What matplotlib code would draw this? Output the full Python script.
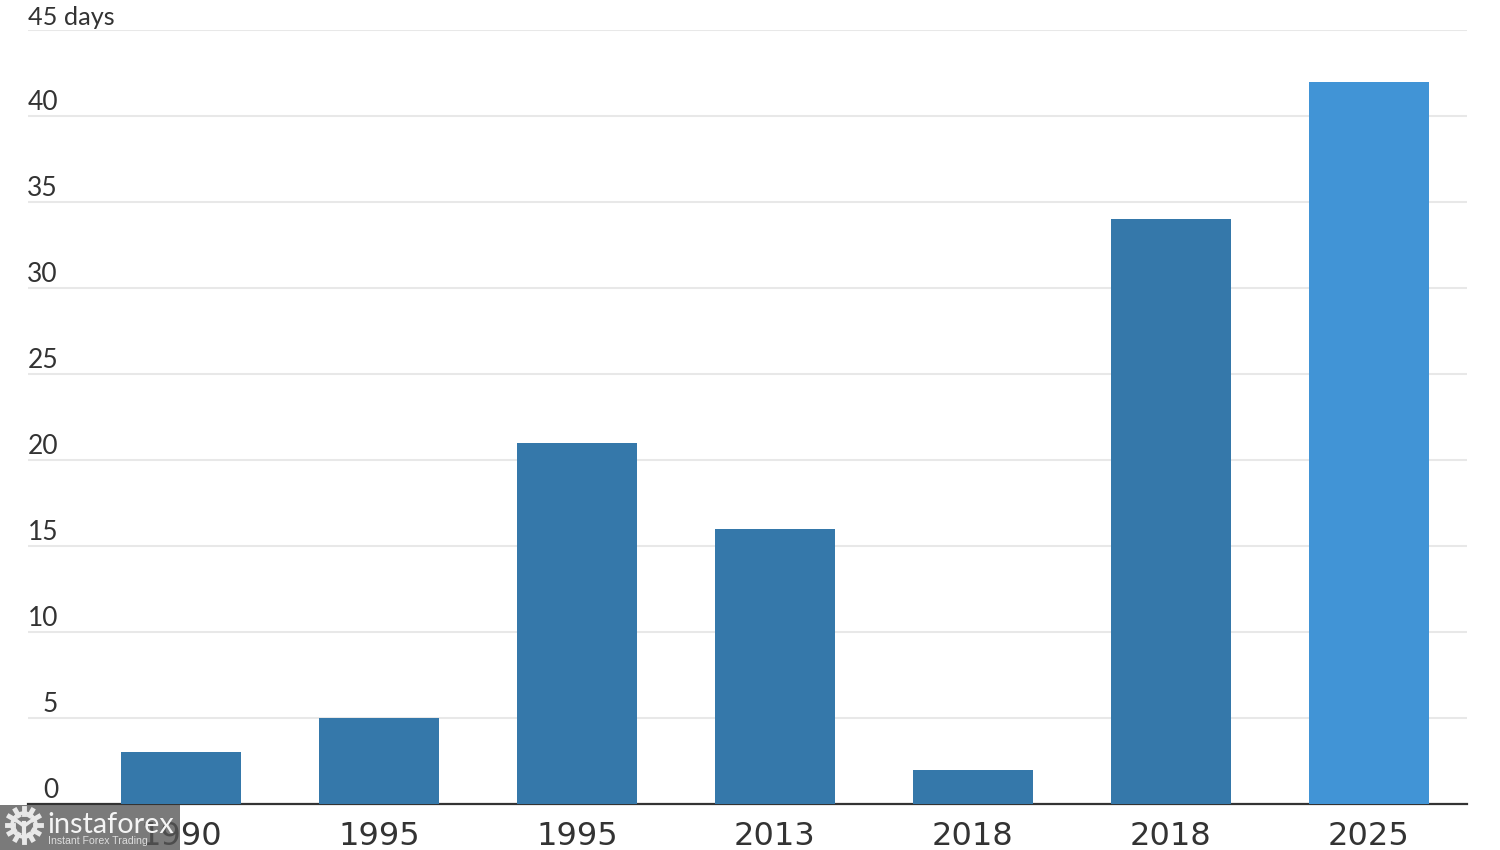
import numpy as np
import matplotlib
matplotlib.use("Agg")
import matplotlib.pyplot as plt
from matplotlib.patches import Rectangle
from matplotlib.lines import Line2D

years = ["1990", "1995", "1995", "2013", "2018", "2018", "2025"]
days = [3, 5, 21, 16, 2, 34, 42]
colors = ["#3578aa"] * 6 + ["#4194d6"]
yticks = [0, 5, 10, 15, 20, 25, 30, 35, 40, 45]
ylabels = ["0", "5", "10", "15", "20", "25", "30", "35", "40", "45 days"]

W, H = 1500, 850

fig = plt.figure(figsize=(15, 8.5), dpi=100)
# axes run from the left end of the gridlines to the right end, baseline to top line
ax = fig.add_axes([28 / W, 1 - 804 / H, (1467 - 28) / W, (804 - 30) / H])

x = list(range(len(years)))
ax.bar(x, days, width=0.606, color=colors, zorder=3)

ax.set_xlim(-0.7727, 6.495)
ax.set_ylim(0, 45)
ax.set_yticks(yticks)
ax.set_yticklabels([])
ax.set_xticks(x)
ax.set_xticklabels(years, fontsize=23, color="#333333", family="DejaVu Sans")
ax.tick_params(axis="x", length=0, pad=12)
ax.tick_params(axis="y", length=0)
ax.grid(axis="y", color="#e8e8e8", lw=1.5, zorder=0)
ax.set_axisbelow(True)

for s in ["top", "right", "left"]:
    ax.spines[s].set_visible(False)
ax.spines["bottom"].set_color("#333333")
ax.spines["bottom"].set_linewidth(1.6)

# y labels sit on top of the gridlines, inside the plot
for t, lab in zip(yticks, ylabels):
    if t == 45:
        off, ha, size = 0, "left", 18.2
    else:
        off, ha, size = 30, "right", 19
    ax.annotate(lab, xy=(0, t), xycoords=ax.get_yaxis_transform(), xytext=(off, 1),
                textcoords="offset pixels", ha=ha, va="bottom", fontsize=size,
                color="#333333", family="Lato", annotation_clip=False)


def fx(px):
    return px / W


def fy(py):
    return 1 - py / H


# instaforex watermark, bottom left
fig.add_artist(Rectangle((0, 0), 180 / W, 45 / H, transform=fig.transFigure,
                         facecolor="#555555", alpha=0.78, edgecolor="none", zorder=10))
fig.text(fx(47), fy(825), "instaforex", fontsize=20.8, color="#f4f4f4", va="center",
         family="Lato", zorder=11)
fig.text(fx(48), fy(841), "Instant Forex Trading", fontsize=7.6, color="#dddddd", va="center",
         family="Liberation Sans", zorder=11)

# gear logo
cx, cy = 24, 825
for a in np.arange(0, 360, 30):
    r = np.radians(a)
    fig.add_artist(Line2D([fx(cx + 11 * np.cos(r)), fx(cx + 17 * np.cos(r))],
                          [fy(cy + 11 * np.sin(r)), fy(cy + 17 * np.sin(r))],
                          transform=fig.transFigure, color="#e8e8e8", lw=3.5, zorder=11))
th = np.linspace(0, 2 * np.pi, 60)
fig.add_artist(Line2D(fx(cx + 12 * np.cos(th)), fy(cy + 12 * np.sin(th)),
                      transform=fig.transFigure, color="#e8e8e8", lw=2.5, zorder=11))
fig.add_artist(Line2D([fx(cx), fx(cx)], [fy(cy - 2), fy(cy + 13)],
                      transform=fig.transFigure, color="#e8e8e8", lw=3, zorder=11))
fig.add_artist(Line2D([fx(cx - 7), fx(cx), fx(cx + 7)], [fy(cy - 4), fy(cy + 1), fy(cy - 4)],
                      transform=fig.transFigure, color="#e8e8e8", lw=2.5, zorder=11))

fig.savefig("out.png", dpi=100)
